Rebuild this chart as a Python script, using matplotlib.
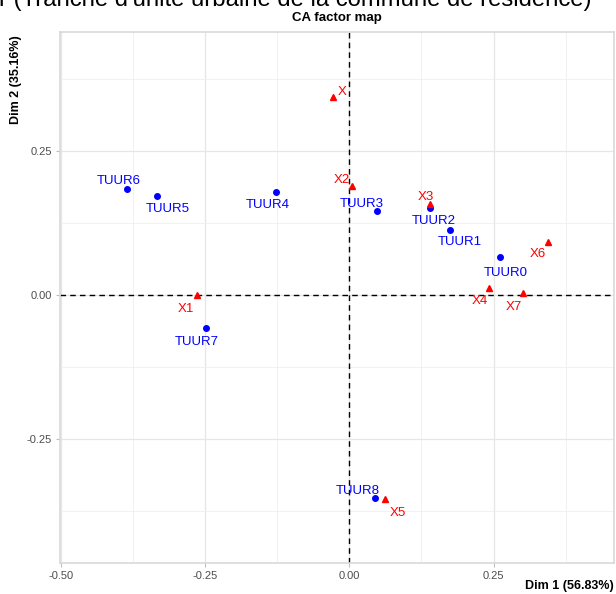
import matplotlib
matplotlib.use("Agg")
import matplotlib.pyplot as plt
from matplotlib.ticker import MultipleLocator

plt.rcParams['font.family'] = ['Liberation Sans', 'DejaVu Sans']

# Row points (TUUR categories)
row_names = ['TUUR0', 'TUUR1', 'TUUR2', 'TUUR3', 'TUUR4', 'TUUR5', 'TUUR6', 'TUUR7', 'TUUR8']
row_x = [0.2605, 0.174, 0.139, 0.048, -0.1265, -0.333, -0.3865, -0.248, 0.045]
row_y = [0.0665, 0.114, 0.152, 0.146, 0.179, 0.172, 0.185, -0.057, -0.353]

# Column points
col_names = ['X', 'X1', 'X2', 'X3', 'X4', 'X5', 'X6', 'X7']
col_x = [-0.028, -0.265, 0.0047, 0.139, 0.243, 0.0624, 0.344, 0.301]
col_y = [0.344, 0.001, 0.189, 0.158, 0.012, -0.354, 0.093, 0.003]

x_ticks = [-0.50, -0.25, 0.00, 0.25]
y_ticks = [-0.25, 0.00, 0.25]

title = "CA factor map"
top_text = "r (Tranche d'unité urbaine de la commune de résidence)"
xlabel = "Dim 1 (56.83%)"
ylabel = "Dim 2 (35.16%)"

# label offsets in pixels (dx right, dy down) -- layout only
row_off = {'TUUR0': (6, 15), 'TUUR1': (10, 11), 'TUUR2': (4, 12), 'TUUR3': (-15, -9),
           'TUUR4': (-9, 11), 'TUUR5': (10, 11), 'TUUR6': (-8, -9), 'TUUR7': (-10, 12),
           'TUUR8': (-18, -9)}
col_off = {'X': (9, -7), 'X1': (-11, 13), 'X2': (-10, -8), 'X3': (-4, -9), 'X4': (-10, 11),
           'X5': (12, 12), 'X6': (-10, 11), 'X7': (-9, 12)}

W, H = 616, 594
fig = plt.figure(figsize=(W / 100, H / 100), dpi=100)
L, R, T, B = 60, 614, 32, 563
ax = fig.add_axes([L / W, (H - B) / H, (R - L) / W, (B - T) / H])

ax.set_xlim(-0.502, 0.459)
ax.set_ylim(-0.465, 0.457)

ax.xaxis.set_minor_locator(MultipleLocator(0.125))
ax.yaxis.set_minor_locator(MultipleLocator(0.125))
ax.set_xticks(x_ticks)
ax.set_yticks(y_ticks)
ax.set_xticklabels([f"{v:.2f}" for v in x_ticks])
ax.set_yticklabels([f"{v:.2f}" for v in y_ticks])
ax.grid(True, which='major', color='#e6e6e6', lw=0.9)
ax.grid(True, which='minor', color='#efefef', lw=0.6)
ax.set_axisbelow(True)
ax.tick_params(which='major', length=3, width=0.8, color='#bdbdbd', labelsize=8,
               labelcolor='#4d4d4d', pad=3)
ax.tick_params(which='minor', length=0)
for s in ax.spines.values():
    s.set_color('#d9d9d9')
    s.set_linewidth(1.2)

ax.axhline(0, color='black', ls=(0, (4, 3)), lw=1.0, zorder=2)
ax.axvline(0, color='black', ls=(0, (4, 3)), lw=1.0, zorder=2)

ax.plot(row_x, row_y, 'o', color='#0000FF', ms=4, zorder=3, ls='none')
ax.plot(col_x, col_y, '^', color='#FF0000', ms=4.2, zorder=3, ls='none')

for n, x, y in zip(row_names, row_x, row_y):
    dx, dy = row_off[n]
    ax.annotate(n, (x, y), xytext=(dx, -dy), textcoords='offset pixels',
                ha='center', va='center_baseline', color='#0000FF', fontsize=9.5, zorder=4)
for n, x, y in zip(col_names, col_x, col_y):
    dx, dy = col_off[n]
    ax.annotate(n, (x, y), xytext=(dx, -dy), textcoords='offset pixels',
                ha='center', va='center_baseline', color='#FF0000', fontsize=9.5, zorder=4)

fig.text((L + R) / 2 / W, 1 - 18 / H, title, ha='center', va='center',
         fontsize=9.5, fontweight='bold', color='black')
fig.text(-1 / W, 1 - 6 / H, top_text, ha='left', va='baseline', fontsize=17.2, color='black')
fig.text(R / W, 1 - 586 / H, xlabel, ha='right', va='center', fontsize=9,
         fontweight='bold', color='black')
fig.text(16 / W, 1 - 35 / H, ylabel, ha='center', va='top', rotation=90, fontsize=9,
         fontweight='bold', color='black')

fig.savefig('out.png', dpi=100)
